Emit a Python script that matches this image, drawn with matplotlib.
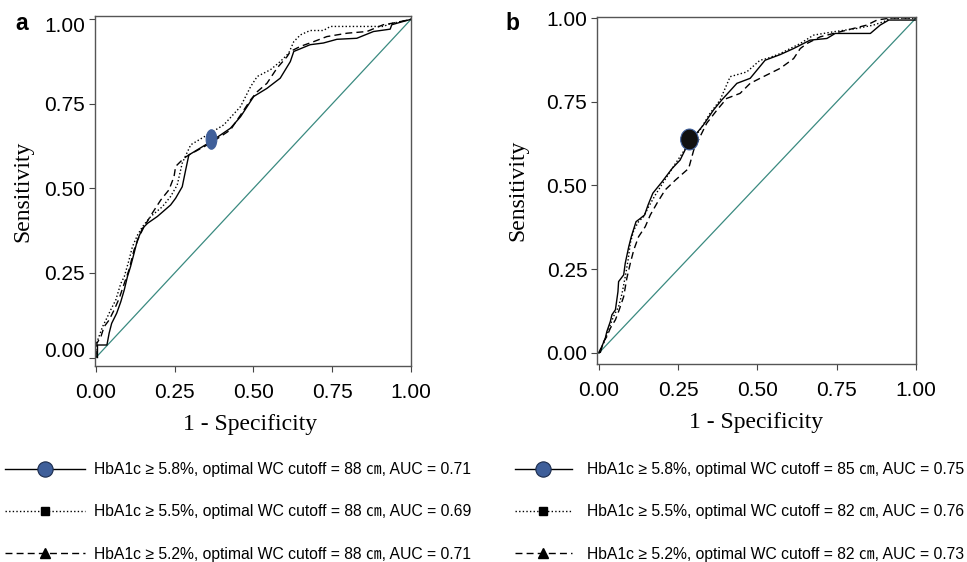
import matplotlib
matplotlib.use("Agg")
import matplotlib.pyplot as plt
from matplotlib.lines import Line2D
from matplotlib.markers import MarkerStyle
from matplotlib.transforms import Affine2D, ScaledTranslation

# ---- panel a: ROC curves (1 - specificity, sensitivity) ----
a58_x = [0.005, 0.005, 0.035, 0.042, 0.05, 0.066, 0.079, 0.09, 0.10, 0.11, 0.121, 0.132, 0.148, 0.164,
         0.195, 0.237, 0.253, 0.274, 0.285, 0.295, 0.364, 0.427, 0.459, 0.501, 0.543, 0.585, 0.617, 0.628,
         0.680, 0.722, 0.765, 0.828, 0.881, 0.934, 0.939, 0.965, 1.0]
a58_y = [0.0, 0.037, 0.037, 0.072, 0.101, 0.131, 0.165, 0.200, 0.239, 0.269, 0.308, 0.348, 0.382, 0.397,
         0.417, 0.451, 0.471, 0.505, 0.555, 0.599, 0.638, 0.678, 0.712, 0.772, 0.796, 0.826, 0.875, 0.905,
         0.925, 0.930, 0.941, 0.944, 0.964, 0.971, 0.984, 0.991, 1.0]

a55_x = [0.0, 0.0, 0.021, 0.037, 0.047, 0.063, 0.079, 0.090, 0.105, 0.116, 0.132, 0.148, 0.174, 0.211,
         0.237, 0.258, 0.274, 0.301, 0.353, 0.406, 0.459, 0.491, 0.512, 0.554, 0.585, 0.612, 0.628, 0.649,
         0.680, 0.722, 0.744, 0.912, 0.934, 0.965, 1.0]
a55_y = [0.0, 0.037, 0.091, 0.121, 0.141, 0.170, 0.219, 0.239, 0.288, 0.328, 0.362, 0.387, 0.417, 0.446,
         0.476, 0.510, 0.575, 0.629, 0.658, 0.688, 0.742, 0.801, 0.831, 0.851, 0.875, 0.900, 0.934, 0.954,
         0.967, 0.967, 0.979, 0.979, 0.987, 0.993, 1.0]

a52_x = [0.003, 0.003, 0.016, 0.026, 0.042, 0.058, 0.074, 0.090, 0.105, 0.121, 0.137, 0.153, 0.179, 0.206,
         0.232, 0.248, 0.253, 0.279, 0.295, 0.364, 0.427, 0.459, 0.491, 0.512, 0.543, 0.575, 0.607, 0.617,
         0.649, 0.691, 0.733, 0.797, 0.860, 0.912, 0.944, 1.0]
a52_y = [0.0, 0.042, 0.062, 0.091, 0.111, 0.141, 0.175, 0.219, 0.259, 0.318, 0.357, 0.387, 0.427, 0.466,
         0.496, 0.535, 0.565, 0.589, 0.599, 0.634, 0.673, 0.717, 0.762, 0.786, 0.811, 0.856, 0.890, 0.905,
         0.920, 0.934, 0.949, 0.959, 0.964, 0.984, 0.989, 1.0]

a_cut = (0.364, 0.646)

# ---- panel b ----
b58_x = [0.0, 0.001, 0.009, 0.020, 0.025, 0.036, 0.041, 0.052, 0.060, 0.062, 0.078, 0.083, 0.094, 0.102,
         0.117, 0.131, 0.144, 0.155, 0.170, 0.199, 0.231, 0.256, 0.282, 0.329, 0.361, 0.387, 0.435, 0.477,
         0.524, 0.572, 0.614, 0.666, 0.719, 0.745, 0.856, 0.887, 0.914, 1.0]
b58_y = [0.0, 0.004, 0.019, 0.044, 0.064, 0.094, 0.114, 0.129, 0.183, 0.213, 0.233, 0.268, 0.317, 0.347,
         0.392, 0.402, 0.412, 0.442, 0.477, 0.511, 0.551, 0.576, 0.626, 0.680, 0.725, 0.755, 0.805, 0.820,
         0.874, 0.891, 0.909, 0.934, 0.939, 0.954, 0.954, 0.979, 0.994, 0.994]

b55_x = [0.0, 0.004, 0.015, 0.025, 0.036, 0.046, 0.062, 0.073, 0.083, 0.092, 0.099, 0.110, 0.125, 0.141,
         0.157, 0.178, 0.204, 0.236, 0.277, 0.319, 0.350, 0.382, 0.414, 0.466, 0.508, 0.530, 0.572, 0.635,
         0.677, 0.740, 0.814, 0.866, 0.898, 0.919, 1.0]
b55_y = [0.0, 0.009, 0.029, 0.054, 0.084, 0.109, 0.138, 0.178, 0.228, 0.278, 0.328, 0.367, 0.392, 0.407,
         0.437, 0.472, 0.511, 0.558, 0.616, 0.666, 0.715, 0.755, 0.825, 0.839, 0.874, 0.879, 0.894, 0.924,
         0.949, 0.959, 0.969, 0.979, 0.989, 0.999, 0.999]

b52_x = [0.004, 0.015, 0.025, 0.036, 0.052, 0.064, 0.078, 0.088, 0.099, 0.110, 0.125, 0.146, 0.162, 0.183,
         0.209, 0.241, 0.283, 0.299, 0.319, 0.340, 0.372, 0.403, 0.445, 0.477, 0.508, 0.572, 0.614, 0.635,
         0.656, 0.698, 0.782, 0.845, 0.877, 0.919, 1.0]
b52_y = [0.0, 0.034, 0.049, 0.074, 0.099, 0.129, 0.168, 0.223, 0.268, 0.308, 0.347, 0.377, 0.412, 0.447,
         0.487, 0.516, 0.551, 0.606, 0.646, 0.686, 0.725, 0.760, 0.775, 0.805, 0.820, 0.850, 0.879, 0.909,
         0.924, 0.944, 0.964, 0.979, 0.994, 1.0, 1.0]

b_cut = (0.285, 0.640)

ticks = [0.0, 0.25, 0.5, 0.75, 1.0]
tick_labels = ["0.00", "0.25", "0.50", "0.75", "1.00"]

labels_a = ["HbA1c ≥ 5.8%, optimal WC cutoff = 88 ㎝, AUC = 0.71",
            "HbA1c ≥ 5.5%, optimal WC cutoff = 88 ㎝, AUC = 0.69",
            "HbA1c ≥ 5.2%, optimal WC cutoff = 88 ㎝, AUC = 0.71"]
labels_b = ["HbA1c ≥ 5.8%, optimal WC cutoff = 85 ㎝, AUC = 0.75",
            "HbA1c ≥ 5.5%, optimal WC cutoff = 82 ㎝, AUC = 0.76",
            "HbA1c ≥ 5.2%, optimal WC cutoff = 82 ㎝, AUC = 0.73"]

plt.rcParams['font.family'] = ['Liberation Sans', 'DejaVu Sans']

diag_color = '#3a8a80'
dot_ls = (0, (1, 1.6))
dash_ls = (0, (5, 3))
blue = '#3f5f9a'


def draw_panel(ax, curves, cut, cut_face, cut_scale, cut_ms, xlim, ylim):
    ax.plot([0, 1], [0, 1], color=diag_color, lw=0.9)
    for (x, y), ls in zip(curves, ['-', dot_ls, dash_ls]):
        ax.plot(x, y, color='black', lw=1.0, ls=ls)
    # the cutoff dot looks squeezed sideways in the original
    m = MarkerStyle('o', transform=Affine2D().scale(cut_scale, 1.0))
    ax.plot(cut[0], cut[1], marker=m, ms=cut_ms, mfc=cut_face, mec=blue, mew=0.8, ls='none')
    ax.set_xlim(*xlim)
    ax.set_ylim(*ylim)
    ax.set_xticks(ticks, tick_labels)
    ax.set_yticks(ticks, tick_labels)
    ax.tick_params(axis='both', direction='out', length=4, width=0.8, labelsize=15, color='#444444')
    ax.tick_params(axis='y', pad=3)
    ax.tick_params(axis='x', pad=8)
    for s in ax.spines.values():
        s.set_color('#555555')
        s.set_linewidth(1.0)
    ax.set_xlabel('1 - Specificity', family='Liberation Serif', fontsize=17)
    ax.set_ylabel('Sensitivity', family='Liberation Serif', fontsize=17)


fig = plt.figure(figsize=(9.67, 5.62), dpi=100)
ax_a = fig.add_axes([0.0982, 0.3488, 0.3268, 0.6228])
ax_b = fig.add_axes([0.6174, 0.3523, 0.3299, 0.6174])

draw_panel(ax_a, [(a58_x, a58_y), (a55_x, a55_y), (a52_x, a52_y)], a_cut, blue, 0.55, 14,
           (-0.003, 1.0), (-0.025, 1.010))
draw_panel(ax_b, [(b58_x, b58_y), (b55_x, b55_y), (b52_x, b52_y)], b_cut, '#111111', 0.85, 15,
           (-0.006, 1.0), (-0.033, 1.003))
ax_a.yaxis.set_label_coords(-0.196, 0.5)
ax_a.xaxis.set_label_coords(0.49, -0.137)
ax_b.yaxis.set_label_coords(-0.216, 0.5)
ax_b.xaxis.set_label_coords(0.50, -0.138)

# in panel a the end labels sit a little inside the tick marks
ytl = ax_a.yaxis.get_major_ticks()
ytl[0].label1.set_transform(ytl[0].label1.get_transform() + ScaledTranslation(0, 6 / 72, fig.dpi_scale_trans))
ytl[-1].label1.set_transform(ytl[-1].label1.get_transform() + ScaledTranslation(0, -4 / 72, fig.dpi_scale_trans))

fig.text(15 / 967, 1 - 30 / 562, 'a', fontsize=16.5, fontweight='bold')
fig.text(505 / 967, 1 - 30 / 562, 'b', fontsize=16.5, fontweight='bold')

handles = [
    Line2D([], [], color='black', lw=1.0, ls='-', marker='o', ms=11, mfc=blue, mec='#1c2c4c', mew=0.8),
    Line2D([], [], color='black', lw=1.0, ls=dot_ls, marker='s', ms=6, mfc='black', mec='black'),
    Line2D([], [], color='black', lw=1.0, ls=dash_ls, marker='^', ms=7, mfc='black', mec='black'),
]
legend_font = {'family': ['Liberation Sans', 'Noto Sans CJK SC'], 'size': 11.3}

fig.legend(handles, labels_a, loc='upper left', bbox_to_anchor=(5 / 967, 1 - 462 / 562),
           frameon=False, handlelength=5.1, handletextpad=0.6, labelspacing=1.75,
           borderpad=0, borderaxespad=0, prop=legend_font, numpoints=1)
fig.legend(handles, labels_b, loc='upper left', bbox_to_anchor=(515 / 967, 1 - 462 / 562),
           frameon=False, handlelength=3.6, handletextpad=1.0, labelspacing=1.75,
           borderpad=0, borderaxespad=0, prop=legend_font, numpoints=1)

fig.savefig('out.png', dpi=100)
